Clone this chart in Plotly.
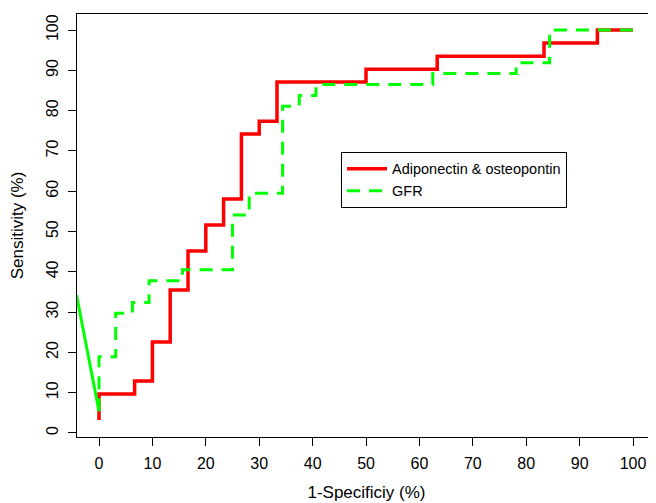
import plotly.graph_objects as go

# Adiponectin & osteopontin ROC (step points, in %)
adipo_fpr = [0, 0, 6.67, 10, 13.33, 16.67, 20, 23.33, 26.67, 30, 33.33, 50, 63.33, 83.33, 93.33, 100]
adipo_tpr = [3.2, 9.7, 12.9, 22.6, 35.5, 45.2, 51.6, 58.1, 74.2, 77.4, 87.1, 90.3, 93.5, 96.8, 100, 100]

# GFR ROC (step points, in %)
gfr_fpr = [0, 0, 3.125, 6.25, 9.375, 15.625, 25, 28.125, 34.375, 37.5, 40.625, 62.5, 78.125, 84.375, 100]
gfr_tpr = [5.4, 18.9, 29.7, 32.4, 37.8, 40.5, 54.1, 59.5, 81.1, 83.8, 86.5, 89.2, 91.9, 100, 100]

# solid green segment entering from the left edge
gfr_lead_x = [-4.2, 0]
gfr_lead_y = [34.2, 5.4]

xticks = list(range(0, 101, 10))
yticks = list(range(0, 101, 10))

fig = go.Figure()
fig.add_trace(go.Scatter(x=adipo_fpr, y=adipo_tpr, mode="lines", line_shape="hv",
                         line=dict(color="#FF0000", width=3.5),
                         name="Adiponectin & osteopontin"))
fig.add_trace(go.Scatter(x=gfr_lead_x, y=gfr_lead_y, mode="lines",
                         line=dict(color="#00FF00", width=3), showlegend=False))
fig.add_trace(go.Scatter(x=gfr_fpr, y=gfr_tpr, mode="lines", line_shape="hv",
                         line=dict(color="#00FF00", width=3, dash="13px,9px"),
                         name="GFR"))

font = "Liberation Sans, Arial, sans-serif"
fig.update_layout(
    width=648, height=495,
    margin=dict(l=69, r=0, t=6, b=66, autoexpand=False),
    paper_bgcolor="white", plot_bgcolor="white",
    font=dict(family=font, size=16, color="black"),
    showlegend=True,
    legend=dict(x=0.456, y=0.674, xanchor="left", yanchor="top",
                bordercolor="black", borderwidth=1, bgcolor="white",
                font=dict(size=14.5), tracegroupgap=0, itemwidth=40),
    xaxis=dict(range=[-4.12, 104.3], tickvals=xticks, ticktext=[str(v) for v in xticks],
               showline=True, linecolor="black", linewidth=1, mirror=True,
               ticks="outside", ticklen=8, tickcolor="black", ticklabelstandoff=4,
               showgrid=False, zeroline=False, automargin=False,
               tickfont=dict(size=16),
               title=dict(text="1-Specificiy (%)", standoff=14, font=dict(size=17))),
    yaxis=dict(range=[-1, 104], tickvals=yticks, ticktext=[str(v) for v in yticks],
               showline=True, linecolor="black", linewidth=1, mirror=False,
               ticks="outside", ticklen=8, tickcolor="black", tickangle=-90, ticklabelstandoff=4,
               showgrid=False, zeroline=False, automargin=False,
               tickfont=dict(size=16),
               title=dict(text="Sensitivity (%)", standoff=16, font=dict(size=17))),
)

fig.write_html("out.html")
